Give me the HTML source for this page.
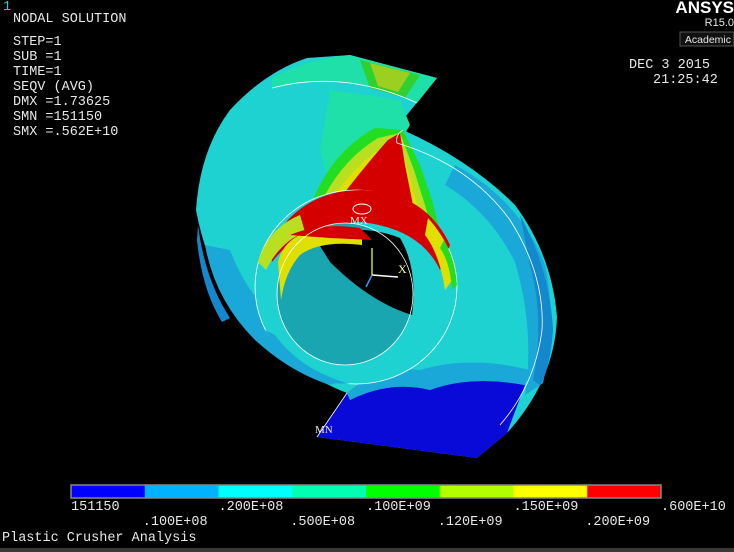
<!DOCTYPE html>
<html><head><meta charset="utf-8"><style>
html,body{margin:0;padding:0;background:#000;}
svg{display:block}
text{font-family:"Liberation Mono",monospace;fill:#e8e8e8;font-size:13.5px}
</style></head><body>
<svg width="734" height="552" viewBox="0 0 734 552">
<rect width="734" height="552" fill="#000"/>
<text x="3" y="10" style="fill:#3cc">1</text>
<g>
<text x="13" y="22">NODAL SOLUTION</text>
<text x="13" y="45">STEP=1</text>
<text x="13" y="60">SUB =1</text>
<text x="13" y="75">TIME=1</text>
<text x="13" y="90">SEQV     (AVG)</text>
<text x="13" y="105">DMX =1.73625</text>
<text x="13" y="120">SMN =151150</text>
<text x="13" y="135">SMX =.562E+10</text>
</g>
<g>
<text x="734" y="13" text-anchor="end" style="font-family:'Liberation Sans',sans-serif;font-weight:bold;font-size:17px;fill:#fff">ANSYS</text>
<text x="734" y="26" text-anchor="end" style="font-family:'Liberation Sans',sans-serif;font-size:11px">R15.0</text>
<rect x="680" y="32" width="54" height="14" fill="#111" stroke="#555" stroke-width="1"/>
<text x="731" y="43" text-anchor="end" style="font-family:'Liberation Sans',sans-serif;font-size:10.5px">Academic</text>
</g>
<text x="629" y="68">DEC  3 2015</text>
<text x="653" y="83">21:25:42</text>

<g>
 <path d="M350,55 L437,78 L397,127 L403,130 Q470,160 515,205 Q552,255 557,317 Q555,380 507,433 L477,458 L317,437 L347,393 Q300,375 257,333 Q210,285 196,210 Q200,150 230,110 Q265,72 307,58 Z" fill="#1ed2d2"/>
 <!-- left lobe lower light-blue band -->
 <path d="M205,245 Q215,300 255,340 Q290,372 330,385 L345,380 Q320,355 300,340 L275,320 Q245,290 230,250 Z" fill="#1aa8d8"/>
 <path d="M198,225 Q205,280 230,318 L222,322 Q202,290 197,240 Z" fill="#1488cc"/>
 <!-- top green strip -->
 <path d="M272,78 Q310,58 350,55 L437,78 L417,103 Q380,88 350,83 Q310,78 272,88 Z" fill="#1fe0a8"/>
 <path d="M360,60 L420,75 L405,98 L370,88 Z" fill="#30d030"/>
 <path d="M370,63 L410,73 L398,92 L378,86 Z" fill="#9ccf20"/>
 <path d="M330,90 L400,100 L410,125 L395,150 L380,170 L330,190 L320,150 Z" fill="#1fe0a8"/>
 <!-- central hot zone -->
 <path d="M315,195 Q335,150 375,128 L403,130 L420,165 L432,200 L445,250 L295,245 Z" fill="#22dd22"/>
 <path d="M325,195 Q345,158 378,138 L400,133 L414,170 L425,205 L436,245 L305,242 Z" fill="#b8e020"/>
 <path d="M335,195 Q355,165 382,148 L398,138 L408,170 L417,205 L428,245 L315,240 Z" fill="#e0e000"/>
 <path d="M345,192 Q370,160 388,140 L400,133 L405,165 L412,200 L420,240 L325,237 Z" fill="#d40000"/>
 <!-- right lobe darker band -->
 <path d="M455,165 Q520,200 545,265 Q557,320 543,383 L525,395 Q535,330 515,262 Q490,212 445,185 Z" fill="#1aa8d8"/>
 <path d="M520,215 Q550,270 553,330 Q550,370 540,385 L533,380 Q545,320 530,265 Z" fill="#1488cc"/>
 <!-- bottom blue -->
 <path d="M350,400 Q390,380 430,390 Q470,375 525,385 L507,433 L477,458 L317,437 L347,393 Z" fill="#0a0ad8"/>
 <path d="M347,393 Q380,365 420,370 Q470,355 530,370 L525,385 Q470,375 430,390 Q390,380 350,400 Z" fill="#1aa8d8"/>
 <!-- face edge lines -->
 <path d="M272,88 Q310,78 350,83 Q385,88 417,103" fill="none" stroke="#fff" stroke-width="0.8"/>
 <path d="M403,130 Q395,135 397,143 Q470,165 510,220 Q545,275 542,330 Q535,385 500,425" fill="none" stroke="#fff" stroke-width="0.8"/>
 <path d="M317,437 L347,393" fill="none" stroke="#fff" stroke-width="0.8"/>
 <!-- inner ring outer face -->
 <ellipse cx="356" cy="287" rx="101" ry="97" fill="#1ed2d2" stroke="#fff" stroke-width="0.8"/>
 <path d="M265,330 Q285,370 330,383 L350,384 Q300,370 275,335 Z" fill="#1aa8d8"/>
 <!-- ring top hot band -->
 <path d="M270,245 Q300,190 362,190 Q425,192 450,245 L440,270 Q420,228 360,222 Q300,225 272,262 Z" fill="#d40000"/>
 <path d="M258,262 Q268,228 300,215 L305,232 Q280,242 266,270 Z" fill="#b8e020"/>
 <path d="M428,218 Q452,245 456,275 L445,290 Q440,255 425,235 Z" fill="#e0e000"/>
 <path d="M444,240 Q455,260 457,285 L452,290 Q450,262 440,248 Z" fill="#22dd22"/>
 <!-- hole -->
 <ellipse cx="345" cy="294" rx="68" ry="71" fill="#1aa6b0"/>
 <path d="M315,238 Q360,222 400,238 Q418,268 412,315 Q370,302 330,262 Z" fill="#000"/>
 <path d="M278,262 Q285,232 330,226 L362,232 L362,245 Q320,240 300,255 Q285,272 281,300 Z" fill="#e0e000"/>
 <path d="M290,235 Q320,222 360,228 L372,240 L330,238 Z" fill="#d40000"/>
 <ellipse cx="345" cy="294" rx="68" ry="71" fill="none" stroke="#fff" stroke-width="0.8"/>
 <ellipse cx="362" cy="209" rx="9" ry="5" fill="none" stroke="#fff" stroke-width="1"/>
 <text x="350" y="224" style="font-family:'Liberation Serif',serif;font-size:11px">MX</text>
 <text x="315" y="433" style="font-family:'Liberation Serif',serif;font-size:11px">MN</text>
 <g>
  <line x1="372" y1="275" x2="372" y2="248" stroke="#b8e020" stroke-width="1.5"/>
  <line x1="372" y1="275" x2="398" y2="277" stroke="#fff" stroke-width="1.5"/>
  <line x1="372" y1="275" x2="366" y2="287" stroke="#39f" stroke-width="1.5"/>
  <text x="398" y="273" style="font-family:'Liberation Serif',serif;font-size:12px;fill:#ff8">X</text>
 </g>
</g>

<g id="legend"></g>
<text x="2" y="541">Plastic Crusher Analysis</text>
<rect x="0" y="548" width="734" height="4" fill="#3a3a3a"/>
</svg>
<script>
const legendColors = ["#0000ff","#00b2ff","#00ffff","#00ffb2","#00ff00","#b2ff00","#ffff00","#ff0000"];
const legendLabels = ["151150",".100E+08",".200E+08",".500E+08",".100E+09",".120E+09",".150E+09",".200E+09",".600E+10"];
const g = document.getElementById('legend');
const NS = "http://www.w3.org/2000/svg";
const x0 = 71, x1 = 661, y0 = 485, h = 13;
const w = (x1 - x0) / legendColors.length;
function bx(i){ return x0 + i * w; }
legendColors.forEach((c, i) => {
  const r = document.createElementNS(NS, 'rect');
  r.setAttribute('x', bx(i)); r.setAttribute('y', y0);
  r.setAttribute('width', w + 0.5); r.setAttribute('height', h);
  r.setAttribute('fill', c);
  
  
  g.appendChild(r);
});
const frame = document.createElementNS(NS, 'rect');
frame.setAttribute('x', x0); frame.setAttribute('y', y0);
frame.setAttribute('width', x1 - x0); frame.setAttribute('height', h);
frame.setAttribute('fill', 'none'); frame.setAttribute('stroke', '#888'); frame.setAttribute('stroke-width', '1.5');


g.appendChild(frame);
legendLabels.forEach((l, i) => {
  const t = document.createElementNS(NS, 'text');
  t.setAttribute('x', bx(i) + (i % 2 === 0 ? 0 : -2));
  t.setAttribute('y', i % 2 === 0 ? 510 : 525);
  t.textContent = l;
  
  
  g.appendChild(t);
});
</script>
</body></html>
